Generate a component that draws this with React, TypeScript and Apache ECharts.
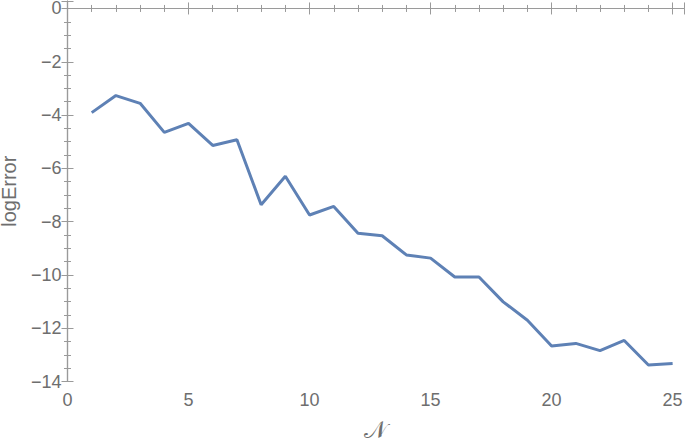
import React, { useEffect, useRef } from 'react'
import * as echarts from 'echarts'

// values
const nValues = [1, 2, 3, 4, 5, 6, 7, 8, 9, 10, 11, 12, 13, 14, 15, 16, 17, 18, 19, 20, 21, 22, 23, 24, 25]
const logError = [
    -3.91, -3.27, -3.56, -4.65, -4.31, -5.14, -4.93, -7.37, -6.3, -7.75,
    -7.43, -8.44, -8.53, -9.25, -9.37, -10.08, -10.08, -11.01, -11.7, -12.67,
    -12.57, -12.84, -12.46, -13.38, -13.32,
]
const xTicks = [0, 5, 10, 15, 20, 25]
const yTicks = [-14, -12, -10, -8, -6, -4, -2, 0]

const frameColor = '#9a9a9a'
const labelColor = '#6e6e6e'
const font = '"Liberation Sans", Arial, sans-serif'

const fmt = (ticks: number[]) => (v: number) =>
    ticks.some((t) => Math.abs(t - v) < 1e-6) ? String(v).replace('-', '\u2212') : ''

const App = () => {
    const chartRef = useRef<HTMLDivElement>(null)

    useEffect(() => {
        if (!chartRef.current) return
        const chart = echarts.init(chartRef.current, null, { renderer: 'svg' })

        const tickCommon = {
            axisLine: { show: true, lineStyle: { color: frameColor, width: 1.2 } },
            axisTick: { show: true, inside: true, length: 6, lineStyle: { color: frameColor } },
            minorTick: { show: true, length: 3.5, lineStyle: { color: frameColor } },
            splitLine: { show: false },
        }

        const option = {
            animation: false,
            grid: {
                left: 67.5,
                right: 1,
                top: 1,
                bottom: 59.5,
                containLabel: false,
                outerBoundsMode: 'none',
            },
            xAxis: [
                {
                    type: 'value',
                    min: 0,
                    max: 25.47,
                    interval: 5,
                    position: 'bottom',
                    ...tickCommon,
                    minorTick: { ...tickCommon.minorTick, splitNumber: 5 },
                    axisLabel: {
                        formatter: fmt(xTicks),
                        color: labelColor,
                        fontSize: 18,
                        fontFamily: font,
                        margin: 9,
                    },
                    name: '\u{1D4A9}',
                    nameLocation: 'middle',
                    nameGap: 38,
                    nameTextStyle: { color: labelColor, fontSize: 24, lineHeight: 20, fontFamily: font },
                },
                {
                    type: 'value',
                    min: 0,
                    max: 25.47,
                    interval: 5,
                    position: 'top',
                    ...tickCommon,
                    minorTick: { ...tickCommon.minorTick, splitNumber: 5 },
                    axisLabel: { show: false },
                },
            ],
            yAxis: [
                {
                    type: 'value',
                    min: -14,
                    max: 0.28,
                    interval: 2,
                    position: 'left',
                    ...tickCommon,
                    minorTick: { ...tickCommon.minorTick, splitNumber: 4 },
                    axisLabel: {
                        formatter: fmt(yTicks),
                        color: labelColor,
                        fontSize: 18,
                        fontFamily: font,
                        margin: 6,
                    },
                    name: 'logError',
                    nameLocation: 'middle',
                    nameRotate: 90,
                    nameGap: 51,
                    nameTextStyle: { color: labelColor, fontSize: 20, lineHeight: 16, fontFamily: font },
                },
                {
                    type: 'value',
                    min: -14,
                    max: 0.28,
                    interval: 2,
                    position: 'right',
                    ...tickCommon,
                    minorTick: { ...tickCommon.minorTick, splitNumber: 4 },
                    axisLabel: { show: false },
                },
            ],
            series: [
                {
                    type: 'line',
                    data: nValues.map((n, i) => [n, logError[i]]),
                    showSymbol: false,
                    lineStyle: { color: '#5e81b5', width: 3 },
                    itemStyle: { color: '#5e81b5' },
                },
            ],
        }

        chart.setOption(option)

        return () => {
            chart.dispose()
        }
    }, [])

    return (
        <div
            ref={chartRef}
            style={{ position: 'fixed', left: 0, top: 0, width: '685px', height: '441px', background: '#fff' }}
        />
    )
}

export default App
